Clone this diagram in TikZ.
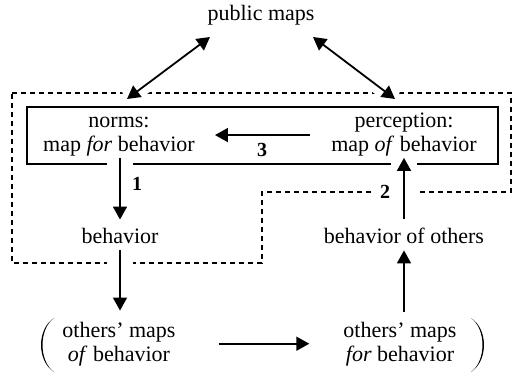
\documentclass[tikz,border=0pt]{standalone}
\usepackage{fontspec}
\setmainfont{Liberation Serif}
\usetikzlibrary{arrows.meta}

\begin{document}
\begin{tikzpicture}[x=1pt, y=-1pt,
  >={Triangle[length=13pt,width=14pt]},
  txt/.style={font=\fontsize{22}{24}\selectfont, align=center, inner sep=1pt, anchor=base},
  num/.style={font=\fontsize{20}{24}\selectfont\bfseries, inner sep=1pt, anchor=base},
  arr/.style={->, line width=1.8pt},
  halo/.style={preaction={draw=white, line width=#1, -}},
  outline/.style={dash pattern=on 5pt off 4pt, line width=1.2pt}]

\useasboundingbox (0,0) rectangle (519,374);

\draw[outline] (12,93) -- (511,93) -- (511,192) -- (262,192) -- (262,263) -- (12,263) -- cycle;
\draw[line width=1.2pt] (27,107) rectangle (498,164);

\node[txt] (pub) at (261,21) {public maps};
\node[txt] (norms) at (119,152) {norms:\\map \textit{for} behavior};
\node[txt] (perc) at (404,152) {perception:\\map \textit{of} behavior};
\node[txt] (beh) at (120,243) {behavior};
\node[txt] (behoth) at (404,243) {behavior of others};
\node[txt] (omof) at (119,361) {others' maps\\\textit{of} behavior};
\node[txt] (omfor) at (400,361) {others' maps\\\textit{for} behavior};

\fill (54,318) .. controls (36.7,329) and (36.7,361) .. (54,372)
  .. controls (38.7,361) and (38.7,329) .. cycle;
\fill (471,318) .. controls (488.3,329) and (488.3,361) .. (471,372)
  .. controls (486.3,361) and (486.3,329) .. cycle;

\coordinate (pubL) at (210,37);
\coordinate (pubR) at (313,37);
\coordinate (normsT) at (127,99);
\coordinate (percT) at (395,99);

\draw[arr, <->, halo=16pt] (pubL) -- (normsT);
\draw[arr, <->, halo=16pt] (pubR) -- (percT);
\draw[arr, halo=26pt, shorten >=7pt] (beh |- norms.south) -- (beh.north);
\draw[arr, halo=26pt, shorten <=6pt, shorten >=10pt] (beh.south) -- (beh |- omof.north);
\draw[arr, shorten <=42pt, shorten >=33pt] (omof.east) -- (omfor.west);
\draw[arr, shorten <=9pt, shorten >=6pt] (behoth |- omfor.north) -- (behoth.south);
\draw[arr, halo=26pt, shorten <=7pt] (behoth.north) -- (perc.south);
\draw[arr, shorten <=20pt, shorten >=19pt] (perc.west) -- (perc.west -| norms.east);

\node[num] (n3) at (262,157) {3};
\node[num] (n1) at (137,191) {1};
\node[num, fill=white, inner sep=6pt] (n2) at (385,198) {2};

\end{tikzpicture}
\end{document}
